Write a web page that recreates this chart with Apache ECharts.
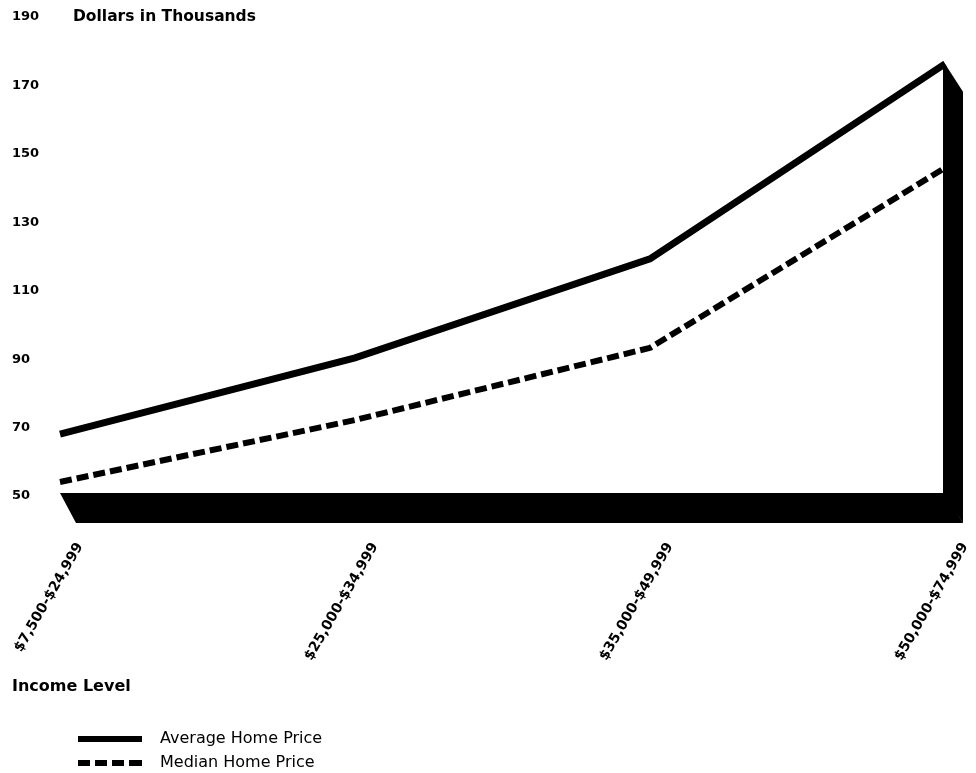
<!DOCTYPE html>
<html>
<head>
<meta charset="utf-8">
<script src="https://cdn.jsdelivr.net/npm/echarts@6/dist/echarts.min.js"></script>
<style>
html,body{margin:0;padding:0;background:#fff;}
#chart{width:976px;height:773px;}
</style>
</head>
<body>
<div id="chart"></div>
<script>
// ---- data ----
var categories = ['$7,500-$24,999', '$25,000-$34,999', '$35,000-$49,999', '$50,000-$74,999'];
var averagePrice = [68.1, 90.4, 119.3, 176.3];
var medianPrice = [54.1, 72.2, 93.3, 145.9];
var yMin = 50, yMax = 190, yStep = 20;
var yTitle = 'Dollars in Thousands';
var xTitle = 'Income Level';
var seriesNames = ['Average Home Price', 'Median Home Price'];

var FONT = '"DejaVu Sans", "Liberation Sans", Arial, sans-serif';
var chart = echarts.init(document.getElementById('chart'), null, {renderer: 'canvas'});

var depth = [18, 28];
var dashedIcon = 'path://M0,0h12v6h-12z M17,0h12v6h-12z M34,0h12v6h-12z M51,0h13v6h-13z';

var option = {
  backgroundColor: '#ffffff',
  animation: false,
  title: [
    {text: yTitle, left: 73, top: 9, padding: 0,
     textStyle: {fontFamily: FONT, fontWeight: 'bold', fontSize: 15.5, color: '#000'}},
    {text: xTitle, left: 12, top: 679, padding: 0,
     textStyle: {fontFamily: FONT, fontWeight: 'bold', fontSize: 16, color: '#000'}}
  ],
  legend: {
    orient: 'vertical', left: 78, top: 730, padding: 0,
    itemWidth: 64, itemHeight: 6, itemGap: 6,
    textStyle: {fontFamily: FONT, fontSize: 16, lineHeight: 18, color: '#000', padding: [0, 0, 0, 13]},
    data: [
      {name: seriesNames[0], icon: 'rect'},
      {name: seriesNames[1], icon: dashedIcon}
    ]
  },
  grid: [
    {left: 60, right: 31, top: 17, bottom: 277},
    {left: 80, right: 11, top: 17, bottom: 277}
  ],
  xAxis: [
    {type: 'category', gridIndex: 0, data: categories, boundaryGap: false,
     axisLine: {show: false}, axisTick: {show: false}, axisLabel: {show: false}, splitLine: {show: false}},
    {type: 'category', gridIndex: 1, data: categories, boundaryGap: false,
     axisLine: {show: false}, axisTick: {show: false}, splitLine: {show: false},
     axisLabel: {show: true, interval: 0, rotate: 60, margin: 48,
       fontFamily: FONT, fontWeight: 'bold', fontSize: 14, color: '#000'}}
  ],
  yAxis: [
    {type: 'value', gridIndex: 0, min: yMin, max: yMax, interval: yStep,
     axisLine: {show: false}, axisTick: {show: false}, splitLine: {show: false},
     axisLabel: {align: 'left', margin: 48, fontFamily: FONT, fontWeight: 'bold', fontSize: 13, color: '#000'}},
    {type: 'value', gridIndex: 1, min: yMin, max: yMax, interval: yStep, show: false}
  ],
  series: [
    {
      type: 'custom', xAxisIndex: 0, yAxisIndex: 0, silent: true, z: 1,
      data: [[categories.length - 1, averagePrice[averagePrice.length - 1]]],
      renderItem: function (params, api) {
        var last = categories.length - 1;
        var b0 = api.coord([0, yMin]);
        var b3 = api.coord([last, yMin]);
        var t3 = api.coord([last, api.value(1)]);
        var dx = depth[0], dy = depth[1];
        var floor = [
          [b0[0], b0[1] - 3], [b3[0], b3[1] - 3],
          [b3[0] + dx, b3[1] + dy - 1], [b0[0] + dx - 2, b0[1] + dy - 1]
        ];
        var wall = [
          [t3[0] - 2, t3[1] - 3], [t3[0] + dx, t3[1] + dy],
          [b3[0] + dx, b3[1] + dy - 1], [b3[0] - 2, b3[1] - 3]
        ];
        return {type: 'group', children: [
          {type: 'polygon', shape: {points: floor}, style: {fill: '#000'}},
          {type: 'polygon', shape: {points: wall}, style: {fill: '#000'}}
        ]};
      }
    },
    {
      name: seriesNames[0], type: 'line', xAxisIndex: 0, yAxisIndex: 0, z: 3,
      data: averagePrice, symbol: 'none', smooth: false,
      lineStyle: {color: '#000', width: 7, type: 'solid', join: 'miter'},
      itemStyle: {color: '#000'}
    },
    {
      name: seriesNames[1], type: 'line', xAxisIndex: 0, yAxisIndex: 0, z: 3,
      data: medianPrice, symbol: 'none', smooth: false,
      lineStyle: {color: '#000', width: 6, type: [12, 5], cap: 'butt'},
      itemStyle: {color: '#000'}
    }
  ]
};
chart.setOption(option);
</script>
</body>
</html>
